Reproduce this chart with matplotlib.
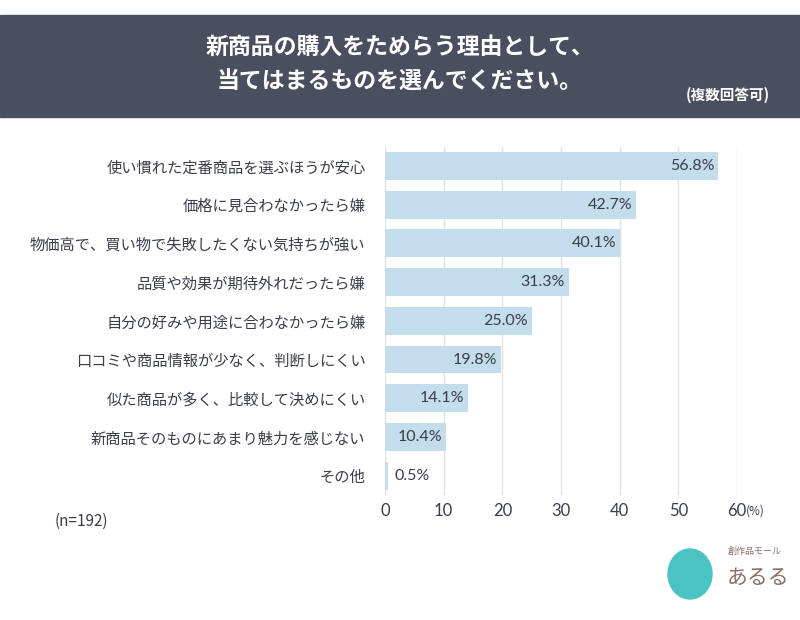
import matplotlib.pyplot as plt
from matplotlib.patches import Rectangle, Ellipse

plt.rcParams['font.family'] = ['Noto Sans CJK JP', 'DejaVu Sans']

categories = [
    '使い慣れた定番商品を選ぶほうが安心',
    '価格に見合わなかったら嫌',
    '物価高で、買い物で失敗したくない気持ちが強い',
    '品質や効果が期待外れだったら嫌',
    '自分の好みや用途に合わなかったら嫌',
    '口コミや商品情報が少なく、判断しにくい',
    '似た商品が多く、比較して決めにくい',
    '新商品そのものにあまり魅力を感じない',
    'その他',
]
values = [56.8, 42.7, 40.1, 31.3, 25.0, 19.8, 14.1, 10.4, 0.5]
xticks = [0, 10, 20, 30, 40, 50, 60]

text_color = '#3a3d4a'
bar_color = '#c4ddec'

fig = plt.figure(figsize=(8, 6.2), dpi=100)

# header banner
fig.patches.append(Rectangle((0, 1 - 117 / 620), 1, 102 / 620, transform=fig.transFigure,
                             color='#4a4f5f', zorder=0))
fig.text(0.5, 1 - 47 / 620, '新商品の購入をためらう理由として、', ha='center', va='center',
         color='white', fontsize=16.5, fontweight='bold')
fig.text(0.5, 1 - 82 / 620, '当てはまるものを選んでください。', ha='center', va='center',
         color='white', fontsize=16.5, fontweight='bold')
fig.text(0.962, 1 - 95 / 620, '(複数回答可)', ha='right', va='center',
         color='white', fontsize=10.5, fontweight='bold')

ax = fig.add_axes([385 / 800, 1 - 495 / 620, 352 / 800, 348.4 / 620])
y = list(range(len(categories)))
ax.barh(y, values, height=0.72, color=bar_color, zorder=2)
ax.set_ylim(len(categories) - 0.5, -0.5)
ax.set_xlim(0, 60)
ax.set_yticks(y)
ax.set_yticklabels(categories, fontsize=11, color=text_color)
ax.set_xticks(xticks)
ax.set_xticklabels([str(t) for t in xticks], fontsize=12, color=text_color, family=['Lato', 'DejaVu Sans'])
ax.tick_params(length=0, pad=14, axis='y')
ax.tick_params(length=0, pad=6, axis='x')
for s in ax.spines.values():
    s.set_visible(False)
ax.grid(axis='x', color='#e2e2e2', linewidth=1, zorder=0)
ax.set_axisbelow(True)

for i, v in enumerate(values):
    label = f'{v:.1f}%'
    if v > 5:
        ax.text(v - 0.6, i, label, ha='right', va='center', fontsize=11.5,
                color=text_color, family=['Lato', 'DejaVu Sans'], zorder=3)
    else:
        ax.text(v + 1.2, i, label, ha='left', va='center', fontsize=11.5,
                color=text_color, family=['Lato', 'DejaVu Sans'], zorder=3)

fig.text(746 / 800, 1 - 511 / 620, '(%)', ha='left', va='center', fontsize=8.5, color=text_color)
fig.text(55 / 800, 1 - 521 / 620, '(n=192)', ha='left', va='center', fontsize=11, color=text_color)

# logo
fig.patches.append(Ellipse((690 / 800, 1 - 574 / 620), 44 / 800, 50 / 620, transform=fig.transFigure,
                           color='#4cc3c3', zorder=1))
fig.text(727 / 800, 1 - 578 / 620, 'あるる', ha='left', va='center', fontsize=15, color='#8a6f6b')
fig.text(728 / 800, 1 - 551 / 620, '創作品モール', ha='left', va='center', fontsize=6.5, color='#8a6f6b')

fig.savefig('out.png', dpi=100, facecolor='white')
